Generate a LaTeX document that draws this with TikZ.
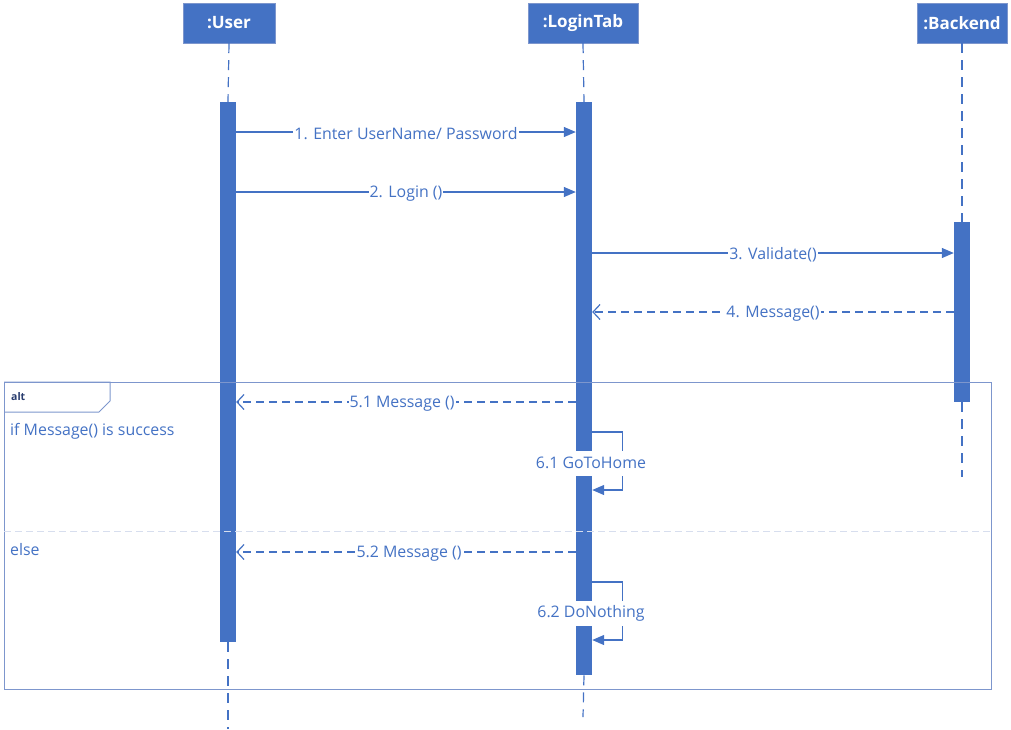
\documentclass[tikz,border=0pt]{standalone}
\usepackage{fontspec}
\setmainfont{Open Sans}
\usetikzlibrary{arrows.meta}
\definecolor{ublue}{RGB}{68,114,196}
\definecolor{framec}{RGB}{125,150,205}
\definecolor{sepc}{RGB}{215,222,238}
\definecolor{altc}{RGB}{40,60,110}
\begin{document}
\begin{tikzpicture}[x=1pt,y=-1pt,
  head/.style={draw=framec,fill=ublue,text=white,font=\fontsize{17}{20}\selectfont\bfseries,minimum height=40pt,inner sep=0pt},
  act/.style={fill=ublue,draw=none,minimum width=16pt,inner sep=0pt,anchor=north},
  life/.style={ublue,line width=1.2pt,dash pattern=on 10pt off 7pt},
  msg/.style={ublue,line width=1.2pt,-{Triangle[length=12pt,width=10pt]}},
  ret/.style={ublue,line width=1.2pt,dash pattern=on 8pt off 5pt,-{Straight Barb[length=7pt,width=15pt,line width=1.2pt]}},
  lbl/.style={fill=white,text=ublue,font=\fontsize{15.9}{18}\selectfont,inner xsep=1pt,inner ysep=2pt,yshift=-1.5pt},
  loopl/.style={fill=white,text=ublue,font=\fontsize{15.9}{18}\selectfont,inner xsep=1pt,minimum height=25pt,inner ysep=0pt},
  ftext/.style={text=ublue,font=\fontsize{15.9}{18}\selectfont,anchor=west,inner sep=0pt}
]
\useasboundingbox (0,0) rectangle (1011,729);
% headers
\node[head,minimum width=92pt] (user) at (229,23) {:User};
\node[head,minimum width=110pt] (login) at (583,23) {:LoginTab};
\node[head,minimum width=90pt] (back) at (962,23) {:Backend};
% lifeline end points
\coordinate (uend) at (228,729);
\coordinate (lend) at (583,717);
\coordinate (bend) at (962,477);
% activations
\node[act,minimum height=540pt] (ua) at (228,102) {};
\node[act,minimum height=573pt] (la) at (584,102) {};
\node[act,minimum height=180pt] (ba) at (962,222) {};
% lifelines
\draw[life] (user.south) -- (ua.north);
\draw[life] (ua.south) -- (uend);
\draw[life] (login.south) -- (la.north);
\draw[life] (la.south) -- (lend);
\draw[life] (back.south) -- (ba.north);
\draw[life] (ba.south) -- (bend);
% alt frame
\node[draw=framec,line width=1pt,anchor=north west,minimum width=987pt,minimum height=307pt,inner sep=0pt] (frame) at (4,382) {};
\draw[framec,line width=1pt] (frame.north west) -| (110,401) -- (99,412) -- (frame.north west |- 0,412);
\node[text=altc,font=\fontsize{10.5}{12}\selectfont\bfseries,anchor=west,inner sep=0pt] (alt) at (11,397) {alt};
\draw[sepc,line width=1pt,dash pattern=on 7pt off 4pt] (frame.west |- 0,531) -- (frame.east |- 0,531);
\node[ftext] (cond1) at (10,431) {if Message() is success};
\node[ftext] (cond2) at (10,550) {else};
% messages
\draw[msg] (ua.east |- 0,132) -- (la.west |- 0,132) node[lbl,midway] {1. Enter UserName/ Password};
\draw[msg] (ua.east |- 0,192) -- (la.west |- 0,192) node[lbl,midway] {2. Login ()};
\draw[msg] (la.east |- 0,253) -- (ba.west |- 0,253) node[lbl,midway] {3. Validate()};
\draw[ret] (ba.west |- 0,312) -- (la.east |- 0,312) node[lbl,midway] {4. Message()};
\draw[ret] (la.west |- 0,402) -- (ua.east |- 0,402) node[lbl,midway,xshift=-4pt] {5.1 Message ()};
\draw[ret] (la.west |- 0,552) -- (ua.east |- 0,552) node[lbl,midway,xshift=3pt] {5.2 Message ()};
% self messages
\draw[msg] (la.east |- 0,432) -- ++(30,0) -- ++(0,58) -- (la.east |- 0,490);
\node[loopl] (l61) at (591,463) {6.1 GoToHome};
\draw[msg] (la.east |- 0,582) -- ++(30,0) -- ++(0,58) -- (la.east |- 0,640);
\node[loopl] (l62) at (591,613) {6.2 DoNothing};
\end{tikzpicture}
\end{document}
